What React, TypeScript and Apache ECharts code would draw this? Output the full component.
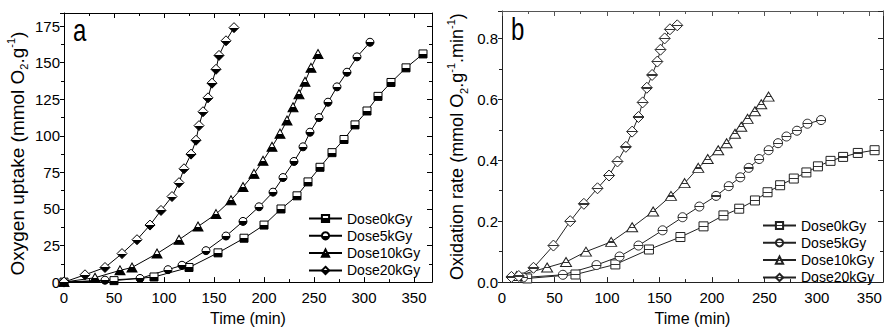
import React, { useEffect, useRef } from 'react';
import * as echarts from 'echarts';

// ---------- data ----------
const doseNames = ['Dose0kGy', 'Dose5kGy', 'Dose10kGy', 'Dose20kGy'];

// Panel a: oxygen uptake (mmol O2/g) vs time (min)
const upT0 = [0, 50, 90, 125, 154, 180, 200, 217, 233, 244, 256, 268, 280, 291, 303, 314, 327, 342, 359];
const upV0 = [0, 1, 3.5, 10, 20, 30, 39, 50, 59, 68.5, 78.5, 88.5, 97.5, 107.5, 117, 127, 136.5, 146.5, 156];
const upT5 = [0, 41, 76, 104, 118, 142, 162, 179, 195, 209, 219, 230, 239, 246, 255, 264, 273, 283, 293, 306];
const upV5 = [0, 1.3, 2.5, 8.5, 11.5, 21.5, 31.5, 41.5, 51.5, 61.5, 71.5, 82.5, 92.5, 102.5, 112.5, 123, 133.5, 143.5, 154, 164];
const upT10 = [0, 31, 56, 68, 93, 115, 134, 152, 167, 179, 190, 199, 208, 216, 223, 229, 235, 241, 247, 254];
const upV10 = [0, 3, 8, 10, 19.5, 29, 38, 46.5, 56, 65, 74, 83, 92.5, 101.5, 110.5, 119.5, 128.5, 137, 146.5, 156];
const upT20 = [0, 21, 41, 58, 73, 86, 97, 108, 115, 120, 127, 132, 135, 139, 144, 148, 152, 155, 162, 170];
const upV20 = [0, 5, 10, 19.5, 29, 39, 49, 58.5, 68, 77.5, 87.5, 97, 107, 116.5, 126, 136, 145.5, 155, 165, 174];

// Panel b: oxidation rate (mmol O2/g/min) vs time (min)
const rtT0 = [24, 70, 108, 140, 170, 192, 211, 226, 241, 253, 265, 278, 290, 301, 313, 325, 339, 355];
const rtV0 = [0.012, 0.025, 0.058, 0.107, 0.148, 0.183, 0.219, 0.241, 0.268, 0.295, 0.318, 0.34, 0.36, 0.38, 0.398, 0.411, 0.424, 0.433];
const rtT5 = [20, 58, 90, 112, 130, 153, 172, 188, 204, 216, 227, 235, 245, 254, 263, 271, 281, 291, 304];
const rtV5 = [0.015, 0.024, 0.056, 0.084, 0.12, 0.17, 0.213, 0.248, 0.283, 0.315, 0.344, 0.375, 0.404, 0.433, 0.456, 0.478, 0.497, 0.52, 0.532];
const rtT10 = [14, 43, 61, 80, 104, 124, 144, 161, 174, 187, 196, 206, 214, 222, 228, 234, 241, 247, 254];
const rtV10 = [0.02, 0.048, 0.066, 0.1, 0.132, 0.18, 0.232, 0.283, 0.325, 0.375, 0.404, 0.433, 0.456, 0.487, 0.51, 0.536, 0.561, 0.584, 0.609];
const rtT20 = [9, 16, 30, 49, 65, 78, 91, 102, 110, 118, 124, 130, 134, 138, 143, 148, 151, 155, 160, 167];
const rtV20 = [0.017, 0.02, 0.047, 0.12, 0.2, 0.257, 0.308, 0.35, 0.396, 0.444, 0.494, 0.542, 0.59, 0.638, 0.68, 0.724, 0.763, 0.8, 0.83, 0.843];

// ---------- helpers ----------
const zip = (t: number[], v: number[]) => t.map((x, i) => [x, v[i]]);
const FONT = '"Liberation Sans", Arial, Helvetica, sans-serif';

const halfFill = {
  type: 'linear', x: 0, y: 0, x2: 0, y2: 1,
  colorStops: [
    { offset: 0, color: '#fff' }, { offset: 0.5, color: '#fff' },
    { offset: 0.5, color: '#000' }, { offset: 1, color: '#000' },
  ],
};
const barFill = {
  type: 'linear', x: 0, y: 0, x2: 0, y2: 1,
  colorStops: [
    { offset: 0, color: '#fff' }, { offset: 0.45, color: '#fff' },
    { offset: 0.45, color: '#333' }, { offset: 0.57, color: '#333' },
    { offset: 0.57, color: '#fff' }, { offset: 1, color: '#fff' },
  ],
};

const symbols = ['rect', 'circle', 'triangle', 'diamond'];
const symSizeA: any[] = [[8, 8], [8, 8], [10, 9], [10, 10]];
const symSizeB: any[] = [[9, 9], [9, 9], [11, 9], [11, 11]];

const App: React.FC = () => {
  const ref = useRef<HTMLDivElement>(null);
  useEffect(() => {
    if (!ref.current) return;
    const chart = echarts.init(ref.current, null, { renderer: 'svg' });

    const dataA = [zip(upT0, upV0), zip(upT5, upV5), zip(upT10, upV10), zip(upT20, upV20)];
    const dataB = [zip(rtT0, rtV0), zip(rtT5, rtV5), zip(rtT10, rtV10), zip(rtT20, rtV20)];

    const axisCommon = (color: string) => ({
      axisLine: { show: true, onZero: false, lineStyle: { color, width: 1 } },
      splitLine: { show: false },
      minorTick: { show: true, splitNumber: 2, length: 3, lineStyle: { color } },
      minorSplitLine: { show: false },
    });
    const labelStyle = { fontFamily: FONT, fontSize: 15, color: '#000' };
    const xNameStyle = { fontFamily: FONT, fontSize: 16, color: '#000' };
    const yNameStyle = (size: number, padding: number[]) => ({
      fontFamily: FONT, fontSize: size, color: '#000', padding,
      rich: {
        n: { fontFamily: FONT, fontSize: size, lineHeight: 24, color: '#000' },
        sub: { fontFamily: FONT, fontSize: 11, lineHeight: 12, verticalAlign: 'bottom', color: '#000' },
        sup: { fontFamily: FONT, fontSize: 11, lineHeight: 12, verticalAlign: 'top', color: '#000' },
      },
    });
    const legendCommon = {
      orient: 'vertical', padding: 0,
      itemWidth: 33, itemHeight: 9, itemGap: 3.3,
      textStyle: { fontFamily: FONT, fontSize: 14, color: '#000' },
    };

    const option: any = {
      animation: false,
      grid: [
        { left: 64, top: 13, width: 368, height: 273 },
        { left: 502, top: 11, width: 381, height: 278.5 },
      ],
      xAxis: [
        {
          type: 'value', gridIndex: 0, min: 0, max: 368, interval: 50,
          name: 'Time (min)', nameLocation: 'middle', nameGap: 23, nameTextStyle: xNameStyle,
          ...axisCommon('#000'),
          axisTick: { show: true, inside: true, length: 5, lineStyle: { color: '#000' } },
          axisLabel: { ...labelStyle, margin: 8, showMaxLabel: false },
        },
        {
          type: 'value', gridIndex: 0, min: 0, max: 368, interval: 50, position: 'top',
          ...axisCommon('#000'),
          axisTick: { show: true, inside: true, length: 5, lineStyle: { color: '#000' } },
          axisLabel: { show: false },
        },
        {
          type: 'value', gridIndex: 1, min: 0, max: 363, interval: 50,
          name: 'Time (min)', nameLocation: 'middle', nameGap: 24, nameTextStyle: xNameStyle,
          ...axisCommon('#222'),
          axisTick: { show: true, inside: true, length: 5, lineStyle: { color: '#222' } },
          axisLabel: { ...labelStyle, margin: 8, showMaxLabel: false },
        },
        {
          type: 'value', gridIndex: 1, min: 0, max: 363, interval: 50, position: 'top',
          ...axisCommon('#555'),
          axisTick: { show: true, inside: true, length: 5, lineStyle: { color: '#555' } },
          axisLabel: { show: false },
        },
      ],
      yAxis: [
        {
          type: 'value', gridIndex: 0, min: 0, max: 184, interval: 25,
          name: '{n|Oxygen uptake (mmol O}{sub|2}{n|.g}{sup|-1}{n|)}',
          nameLocation: 'middle', nameRotate: 90, nameGap: 35, nameTextStyle: yNameStyle(19, [0, 12, 0, 0]),
          ...axisCommon('#000'),
          axisTick: { show: true, inside: false, length: 4, lineStyle: { color: '#000' } },
          axisLabel: { ...labelStyle, margin: 4, showMaxLabel: false },
        },
        {
          type: 'value', gridIndex: 0, min: 0, max: 184, interval: 25, position: 'right',
          ...axisCommon('#000'),
          axisTick: { show: true, inside: true, length: 5, lineStyle: { color: '#000' } },
          axisLabel: { show: false },
        },
        {
          type: 'value', gridIndex: 1, min: 0, max: 0.89, interval: 0.2,
          name: '{n|Oxidation rate (mmol O}{sub|2}{n|.g}{sup|-1}{n|.min}{sup|-1}{n|)}',
          nameLocation: 'middle', nameRotate: 90, nameGap: 33, nameTextStyle: yNameStyle(18, [0, 0, 0, 0]),
          ...axisCommon('#222'),
          axisTick: { show: true, inside: false, length: 4, lineStyle: { color: '#222' } },
          axisLabel: { ...labelStyle, margin: 4, showMaxLabel: false, formatter: (v: number) => v.toFixed(1) },
        },
        {
          type: 'value', gridIndex: 1, min: 0, max: 0.89, interval: 0.2, position: 'right',
          ...axisCommon('#222'),
          axisTick: { show: true, inside: true, length: 5, lineStyle: { color: '#222' } },
          axisLabel: { show: false },
        },
      ],
      legend: [
        { ...legendCommon, data: doseNames, left: 308, top: 211.5 },
        {
          ...legendCommon, data: doseNames.map((n) => 'b:' + n), left: 762, top: 218.5,
          formatter: (n: string) => n.slice(2),
        },
      ],
      graphic: [
        { type: 'text', x: 73, y: 15, scaleY: 1.3, style: { text: 'a', fontFamily: FONT, fontSize: 24, fill: '#000', verticalAlign: 'top' } },
        { type: 'text', x: 511, y: 14, scaleY: 1.3, style: { text: 'b', fontFamily: FONT, fontSize: 24, fill: '#000', verticalAlign: 'top' } },
      ],
      series: [
        ...dataA.map((d, i) => ({
          type: 'line', name: doseNames[i], xAxisIndex: 0, yAxisIndex: 0, data: d,
          symbol: symbols[i], symbolSize: symSizeA[i], showAllSymbol: true,
          lineStyle: { color: '#000', width: 1 },
          itemStyle: { color: halfFill, borderColor: '#000', borderWidth: 1 },
          emphasis: { disabled: true },
        })),
        ...dataB.map((d, i) => ({
          type: 'line', name: 'b:' + doseNames[i], xAxisIndex: 2, yAxisIndex: 2, data: d,
          symbol: symbols[i], symbolSize: symSizeB[i], showAllSymbol: true,
          lineStyle: { color: '#222', width: 1 },
          itemStyle: { color: barFill, borderColor: '#222', borderWidth: 1 },
          emphasis: { disabled: true },
        })),
      ],
    };
    chart.setOption(option);
    return () => chart.dispose();
  }, []);
  return <div ref={ref} style={{ position: 'fixed', left: 0, top: 0, width: 887, height: 331, background: '#fff' }} />;
};

export default App;
